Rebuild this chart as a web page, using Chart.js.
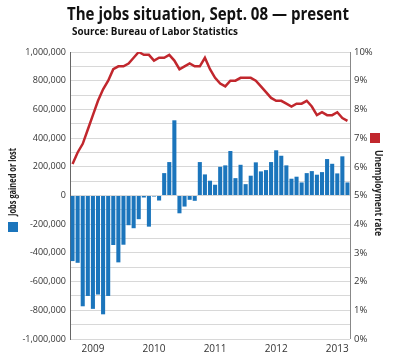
<!DOCTYPE html>
<html>
<head>
<meta charset="utf-8">
<script src="https://cdn.jsdelivr.net/npm/chart.js@4"></script>
<style>
  html, body { margin: 0; padding: 0; background: #fff; }
  #wrap { width: 400px; height: 364px; }
</style>
</head>
<body>
<div id="wrap"><canvas id="myChart" width="400" height="364"></canvas></div>
<script>
// monthly, Sept. 2008 - March 2013
const months = [
  'Sep 08', 'Oct 08', 'Nov 08', 'Dec 08',
  'Jan 09', 'Feb 09', 'Mar 09', 'Apr 09', 'May 09', 'Jun 09', 'Jul 09', 'Aug 09', 'Sep 09', 'Oct 09', 'Nov 09', 'Dec 09',
  'Jan 10', 'Feb 10', 'Mar 10', 'Apr 10', 'May 10', 'Jun 10', 'Jul 10', 'Aug 10', 'Sep 10', 'Oct 10', 'Nov 10', 'Dec 10',
  'Jan 11', 'Feb 11', 'Mar 11', 'Apr 11', 'May 11', 'Jun 11', 'Jul 11', 'Aug 11', 'Sep 11', 'Oct 11', 'Nov 11', 'Dec 11',
  'Jan 12', 'Feb 12', 'Mar 12', 'Apr 12', 'May 12', 'Jun 12', 'Jul 12', 'Aug 12', 'Sep 12', 'Oct 12', 'Nov 12', 'Dec 12',
  'Jan 13', 'Feb 13', 'Mar 13'
];

const jobs = [
  -457000, -469000, -772000, -700000,
  -790000, -690000, -828000, -700000, -345000, -466000, -343000, -207000, -228000, -165000, -14000, -217000,
  -7000, -35000, 156000, 233000, 524000, -124000, -77000, -30000, -37000, 233000, 147000, 103000,
  75000, 200000, 210000, 310000, 121000, 214000, 79000, 138000, 231000, 168000, 177000, 233000,
  315000, 277000, 210000, 117000, 131000, 91000, 156000, 170000, 145000, 163000, 254000, 221000,
  154000, 273000, 91000
];

const unemployment = [
  6.1, 6.5, 6.8, 7.3,
  7.8, 8.3, 8.7, 9.0, 9.4, 9.5, 9.5, 9.6, 9.8, 10.0, 9.9, 9.9,
  9.7, 9.8, 9.8, 9.9, 9.7, 9.4, 9.5, 9.6, 9.5, 9.5, 9.8, 9.4,
  9.1, 8.9, 8.8, 9.0, 9.0, 9.1, 9.1, 9.1, 9.0, 8.8, 8.6, 8.4,
  8.3, 8.3, 8.2, 8.1, 8.2, 8.2, 8.3, 8.1, 7.8, 7.9, 7.8, 7.8,
  7.9, 7.7, 7.6
];

const titleText = 'The jobs situation, Sept. 08 \u2014 present';
const sourceText = 'Source: Bureau of Labor Statistics';
const leftTitle = 'Jobs gained or lost';
const rightTitle = 'Unemployment rate';

const blue = '#1b75bc';
const red = '#c1272d';
const font = '"Open Sans", sans-serif';

// draw text squeezed to a given width (the original uses a condensed face)
function fitText(c, text, x, y, width) {
  const w = c.measureText(text).width;
  const k = Math.min(1, width / w);
  c.save();
  c.translate(x, y);
  c.scale(k, 1);
  c.fillText(text, 0, 0);
  c.restore();
}

const decorations = {
  id: 'decorations',
  afterDraw(chart) {
    const c = chart.ctx;
    const area = chart.chartArea;
    c.save();
    c.fillStyle = '#111';
    c.textBaseline = 'middle';
    c.textAlign = 'center';
    c.font = 'bold 17px ' + font;
    fitText(c, titleText, 208, 15, 282);
    c.textAlign = 'left';
    c.font = 'bold 11px ' + font;
    fitText(c, sourceText, 72, 32, 166);

    // left axis title + swatch
    c.save();
    c.translate(13, 182);
    c.rotate(-Math.PI / 2);
    c.font = 'bold 10px ' + font;
    c.fillStyle = '#222';
    c.textAlign = 'center';
    fitText(c, leftTitle, 0, 0, 68);
    c.restore();
    c.fillStyle = blue;
    c.fillRect(8, 222, 10, 10);

    // right axis title + swatch
    c.save();
    c.translate(378, 193);
    c.rotate(Math.PI / 2);
    c.font = 'bold 10px ' + font;
    c.fillStyle = '#222';
    c.textAlign = 'center';
    fitText(c, rightTitle, 0, 0, 86);
    c.restore();
    c.fillStyle = red;
    c.fillRect(370, 133, 10, 10);

    // right axis line
    c.strokeStyle = '#888';
    c.lineWidth = 1;
    c.beginPath();
    c.moveTo(Math.round(area.right) + 0.5, area.top);
    c.lineTo(Math.round(area.right) + 0.5, area.bottom);
    c.stroke();
    c.restore();
  }
};

const ctx = document.getElementById('myChart');

new Chart(ctx, {
  data: {
    labels: months,
    datasets: [{
      type: 'line',
      data: unemployment,
      yAxisID: 'yRate',
      borderColor: red,
      borderWidth: 2.5,
      pointRadius: 0,
      tension: 0,
      order: 0
    }, {
      type: 'bar',
      data: jobs,
      yAxisID: 'yJobs',
      backgroundColor: blue,
      barPercentage: 0.8,
      categoryPercentage: 1.0,
      order: 1
    }]
  },
  options: {
    responsive: false,
    animation: false,
    layout: { padding: { top: 52, right: 0, left: 0, bottom: 0 } },
    plugins: {
      legend: { display: false },
      tooltip: { enabled: false }
    },
    scales: {
      x: {
        grid: { display: false, drawTicks: false },
        border: { display: false },
        ticks: {
          autoSkip: false,
          maxRotation: 0,
          padding: 4,
          color: '#333',
          font: { family: font, size: 10 },
          callback: (v, i) => months[i].startsWith('Jan') ? '20' + months[i].slice(4) : ''
        },
        afterFit: s => { s.height = 25; }
      },
      yJobs: {
        position: 'left',
        min: -1000000,
        max: 1000000,
        grid: { color: '#d8d8d8', lineWidth: 1, drawTicks: false },
        border: { display: true, color: '#666', width: 1 },
        ticks: {
          stepSize: 100000,
          padding: 4,
          color: '#333',
          font: { family: font, size: 9 },
          callback: v => (Math.round(v / 100000) % 2 === 0) ? v.toLocaleString('en-US') : ''
        },
        afterFit: s => { s.width = 70; }
      },
      yRate: {
        position: 'right',
        min: 0,
        max: 10,
        grid: { display: false, drawTicks: false },
        border: { display: false },
        ticks: {
          stepSize: 1,
          padding: 4,
          color: '#333',
          font: { family: font, size: 9.5 },
          callback: v => v + '%'
        },
        afterFit: s => { s.width = 50; }
      }
    }
  },
  plugins: [decorations]
});
</script>
</body>
</html>
